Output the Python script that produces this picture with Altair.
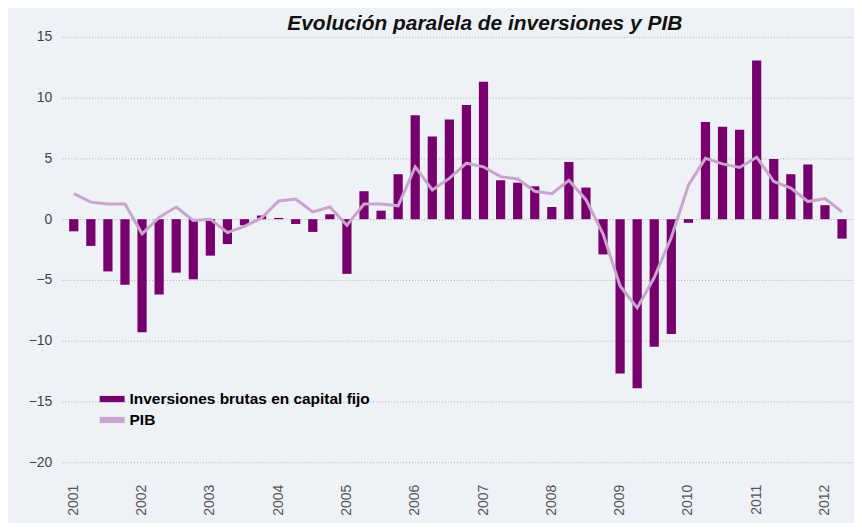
import altair as alt
import pandas as pd

years = [2001, 2002, 2003, 2004, 2005, 2006, 2007, 2008, 2009, 2010, 2011, 2012]
quarters = ["T1", "T2", "T3", "T4"]
periodos = [f"{y}-{q}" for y in years for q in quarters][:46]

inversiones = [-1.0, -2.2, -4.3, -5.4, -9.3, -6.2, -4.4, -4.95, -3.0, -2.05,
               -0.5, 0.3, 0.1, -0.4, -1.05, 0.4, -4.5, 2.3, 0.7, 3.7,
               8.55, 6.8, 8.2, 9.4, 11.3, 3.2, 3.0, 2.7, 1.0, 4.7,
               2.6, -2.9, -12.7, -13.9, -10.5, -9.45, -0.3, 8.0, 7.6, 7.35,
               13.05, 4.95, 3.7, 4.5, 1.15, -1.6]

pib = [2.1, 1.4, 1.25, 1.25, -1.2, 0.15, 1.0, -0.1, 0.0, -1.1,
       -0.6, 0.1, 1.5, 1.65, 0.6, 1.0, -0.5, 1.25, 1.25, 1.1,
       4.3, 2.4, 3.35, 4.6, 4.3, 3.5, 3.3, 2.3, 2.1, 3.2,
       1.6, -1.2, -5.5, -7.3, -4.8, -1.5, 2.8, 5.0, 4.55, 4.25,
       5.1, 3.1, 2.55, 1.45, 1.7, 0.6]

series_names = ["Inversiones brutas en capital fijo", "PIB"]
series_colors = ["#78006e", "#c9a5cd"]

df = pd.DataFrame({"periodo": periodos, "inv": inversiones, "pib": pib})

FONT = "Liberation Sans"

x_enc = alt.X(
    "periodo:N", sort=None, title=None,
    scale=alt.Scale(paddingInner=0.46, paddingOuter=0.43),
    axis=alt.Axis(
        labelExpr="slice(datum.value, 5) == 'T1' ? slice(datum.value, 0, 4) : ''",
        labelAngle=-90, labelOverlap=False, ticks=False, domain=False,
        grid=False, labelPadding=22, labelFontSize=14, labelColor="#555555",
        labelFont=FONT,
    ),
)

y_scale = alt.Scale(domain=[-20, 15], nice=False)
y_axis = alt.Axis(values=[-20, -15, -10, -5, 0, 5, 10, 15], title=None,
                  ticks=False, domain=False, labelPadding=10, labelFontSize=14,
                  labelColor="#444444", labelFont=FONT,
                  gridColor="#aeb0b4", gridDash=[1, 2], gridWidth=1)

color_enc = alt.Color(
    "serie:N",
    scale=alt.Scale(domain=series_names, range=series_colors),
    legend=alt.Legend(
        title=None, orient="none", legendX=38, legendY=351,
        symbolType="M-1,-0.25H1V0.25H-1Z", symbolSize=625,
        symbolStrokeWidth=0, symbolOpacity=1,
        labelFontSize=15.5, labelFontWeight="bold", labelColor="black",
        labelFont=FONT, labelOffset=5, labelLimit=400, rowPadding=0, padding=0,
    ),
)

bars = alt.Chart(df).transform_calculate(
    serie="'Inversiones brutas en capital fijo'"
).mark_bar().encode(
    x=x_enc,
    y=alt.Y("inv:Q", scale=y_scale, axis=y_axis),
    color=color_enc,
)

line = alt.Chart(df).transform_calculate(
    serie="'PIB'"
).mark_line(strokeWidth=3).encode(
    x=x_enc,
    y=alt.Y("pib:Q", scale=y_scale, axis=y_axis),
    color=color_enc,
)

chart = alt.layer(bars, line).properties(
    width=795,
    height=427,
    autosize=alt.AutoSizeParams(type="none"),
    padding={"left": 54, "top": 28, "right": 0, "bottom": 60},
    background="#eef1f5",
    title=alt.TitleParams(
        "Evolución paralela de inversiones y PIB",
        font=FONT, fontSize=21, fontWeight="bold", fontStyle="italic",
        color="#111111", anchor="middle", offset=-4, dx=27,
    ),
).configure_view(stroke=None, fill="#eef1f5")

chart.save("out.html", embed_options={"renderer": "svg", "actions": False})
